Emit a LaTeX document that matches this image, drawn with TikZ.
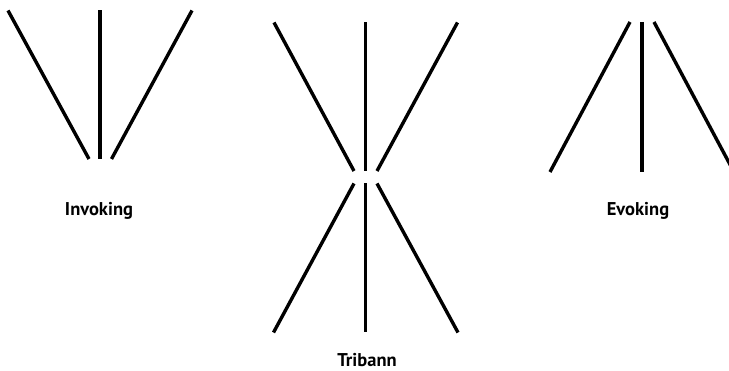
\documentclass[tikz,border=0pt]{standalone}
\usepackage{fontspec}
\setmainfont{PT Sans}
\begin{document}
\begin{tikzpicture}[x=1pt,y=-1pt,
  bar/.style={line width=3.4pt,black},
  lbl/.style={font=\bfseries\fontsize{18.5}{20}\selectfont,inner sep=0pt,anchor=base}]
\useasboundingbox (0,0) rectangle (729,371);
% Invoking
\draw[bar] (8,10.5) -- (89,159);
\draw[bar] (100,10.5) -- (100,159);
\draw[bar] (192,10.5) -- (111.5,159);
\node[lbl] (inv) at (99,215.5) {Invoking};
% Tribann
\draw[bar] (274,22.5) -- (354,171);
\draw[bar] (365.5,22.5) -- (365.5,171);
\draw[bar] (457.5,22.5) -- (377,171);
\draw[bar] (354,183.5) -- (273.5,332.5);
\draw[bar] (365.5,183.5) -- (365.5,332.5);
\draw[bar] (377,183.5) -- (458,332.5);
\node[lbl] (tri) at (367,367) {Tribann};
% Evoking
\begin{scope}
\clip (0,0) rectangle (729,371);
\draw[bar] (630,22) -- (550,172);
\draw[bar] (642,22) -- (642,172);
\draw[bar] (654,22) -- (734,172);
\end{scope}
\node[lbl] (evo) at (638,215.5) {Evoking};
\end{tikzpicture}
\end{document}
